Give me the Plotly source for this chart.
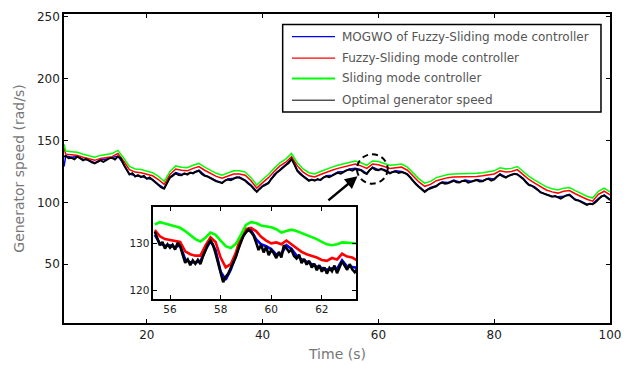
import plotly.graph_objects as go

# ---------------- data ----------------
t_main = [5.7] + list(range(6, 101))

sliding = [147,
    141.5, 141, 140.5, 139, 137.5, 136.5, 138, 139, 139.5, 142,
    136, 129, 127, 126.5, 125.5, 124, 121, 117, 125, 129.5,
    128.5, 128, 130, 131.5, 128.5, 126, 123.5, 122, 124, 125.5,
    125.5, 124.5, 120, 114, 118.5, 122.5, 127.5, 132, 135, 139.5,
    132, 127, 124, 123, 125, 127, 128.5, 130, 131, 132,
    133.5, 132, 130, 133.5, 133, 131.5, 130, 130.5, 131, 128.5,
    124, 119, 115.5, 117, 120, 121.5, 122.5, 123, 123, 123,
    123.5, 123.5, 124, 124.5, 125.5, 128, 127, 127.5, 129, 125,
    121, 118, 115, 112.5, 111, 110, 111.5, 112, 109.5, 107,
    105, 103.5, 109, 111.5, 108.5]

fuzzy = [144,
    139, 138.5, 138, 136.5, 135, 134, 135.5, 136.5, 137, 139.5,
    133.5, 126.5, 124.5, 124, 123, 121.5, 118.5, 114.5, 122.5, 127,
    126, 125.5, 127.5, 129, 126, 123.5, 121, 119.5, 121.5, 123,
    123, 122, 117.5, 111.5, 116, 120, 125, 129.5, 132.5, 137,
    129.5, 124.5, 121.5, 120.5, 122.5, 124.5, 126, 127.5, 128.5, 129.5,
    131, 129.5, 127.5, 131, 130.5, 129, 127.5, 128, 128.5, 126,
    121.5, 116.5, 113, 114.5, 117.5, 119, 120, 120.5, 120.5, 120.5,
    121, 121, 121.5, 122, 123, 125.5, 124.5, 125, 126.5, 122.5,
    118.5, 115.5, 112.5, 110, 108.5, 107.5, 109, 109.5, 107, 104.5,
    102.5, 101, 106.5, 109, 106]

mogwo = [129,
    137.5, 136.5, 137, 135, 134, 132, 134.5, 135, 136.5, 137.5,
    131, 123, 121.5, 121, 119.5, 118.5, 114.5, 111.5, 120.5, 124,
    122.5, 123, 124, 126, 122, 120, 117.5, 116, 119, 119.5,
    120.5, 118, 114, 109, 113.5, 116, 122.5, 126.5, 130.5, 135.5,
    126, 121.5, 118, 118, 118.5, 121.5, 122, 124.5, 125, 127,
    127.5, 126.5, 123.5, 128.5, 126.5, 126.5, 124, 125.5, 125, 123,
    117.5, 113, 109, 112, 113.5, 116.5, 116, 118, 116.5, 118,
    117, 118.5, 117.5, 119.5, 119, 123, 120.5, 122.5, 123, 119.5,
    114.5, 112.5, 108.5, 106.5, 105, 104.5, 105, 106.5, 102.5, 101,
    98.5, 99, 103, 106, 102.5]

# optimal speed read at half-second steps (noisy signal)
t_opt = [5.7] + [6 + 0.5 * i for i in range(189)]
optimal = [137,
    137.5, 135.8, 136.0, 134.9, 137.0, 135.6, 134.0, 135.2, 133.5, 132.4,
    131.5, 133.1, 134.0, 132.8, 134.5, 135.6, 136.0, 134.7, 137.0, 135.9,
    130.5, 126.0, 122.5, 123.6, 121.0, 122.1, 120.5, 121.4, 119.0, 120.2,
    118.0, 116.3, 114.0, 112.1, 111.0, 115.4, 120.0, 121.6, 123.5, 122.1,
    122.0, 123.4, 122.5, 124.1, 123.5, 124.8, 125.5, 123.0, 121.5, 120.9,
    119.5, 118.8, 117.0, 116.4, 115.5, 117.6, 118.5, 117.9, 119.0, 120.3,
    120.0, 118.6, 117.5, 115.2, 113.5, 110.8, 108.5, 110.9, 113.0, 114.1,
    115.5, 118.9, 122.0, 124.2, 126.0, 128.3, 130.0, 131.9, 135.0, 130.6,
    125.5, 123.0, 121.0, 118.8, 117.5, 118.4, 117.5, 118.9, 118.0, 120.1,
    121.0, 120.3, 121.5, 123.1, 124.0, 123.2, 124.5, 125.9, 126.5, 125.6,
    127.0, 126.2, 126.0, 124.1, 123.0, 126.3, 128.0, 126.4, 126.0, 127.1,
    126.0, 124.3, 123.5, 124.6, 125.0, 123.9, 124.5, 123.8, 122.5, 120.1,
    117.0, 114.6, 112.5, 110.1, 108.5, 110.3, 111.5, 112.2, 113.0, 114.9,
    116.0, 115.1, 115.5, 116.8, 117.5, 116.2, 116.0, 117.3, 117.5, 116.0,
    116.5, 117.6, 118.0, 116.9, 117.0, 118.4, 119.0, 117.6, 118.5, 120.9,
    122.5, 121.0, 120.0, 121.4, 122.0, 123.1, 122.5, 121.0, 119.0, 116.2,
    114.0, 113.4, 112.0, 110.1, 108.0, 107.2, 106.0, 105.3, 104.5, 105.1,
    104.0, 103.1, 104.5, 105.6, 106.0, 104.2, 102.0, 101.6, 100.5, 99.1,
    98.0, 98.9, 98.5, 100.1, 102.5, 104.8, 105.5, 103.4, 102.0]

# inset (zoom 55.4 - 63.4 s)
t_inset = [round(55.4 + 0.2 * i, 1) for i in range(41)]
t_inset_fine = [round(55.4 + 0.1 * i, 1) for i in range(81)]

sliding_in = [134.0, 134.5, 134.2, 133.9, 133.6, 133.3, 132.6, 131.8, 130.9, 130.4,
              131.2, 132.3, 131.8, 130.6, 129.4, 129.0, 129.9, 131.8, 133.9, 134.5,
              134.3, 133.8, 133.6, 133.4, 133.0, 132.3, 132.6, 132.9, 132.6, 132.2,
              131.7, 131.3, 130.9, 130.3, 129.8, 129.6, 129.8, 130.2, 130.1, 130.0,
              130.0]

fuzzy_in = [132.8, 131.5, 130.9, 130.7, 130.4, 130.3, 128.3, 127.7, 127.4, 127.4,
            129.5, 131.3, 130.3, 127.0, 124.9, 125.6, 128.0, 131.5, 133.0, 133.3,
            132.6, 131.4, 130.6, 130.0, 130.2, 129.8, 130.6, 129.8, 128.9, 128.2,
            127.7, 127.4, 127.0, 126.5, 126.3, 126.9, 126.6, 127.8, 127.2, 127.0,
            126.4]

mogwo_in = [131.8, 130.0, 129.5, 129.6, 129.2, 129.6, 126.6, 126.0, 126.0, 126.2,
            128.6, 130.5, 128.6, 124.0, 122.3, 124.4, 127.3, 130.6, 132.6, 132.8,
            130.9, 129.8, 129.4, 128.8, 127.6, 127.8, 129.6, 128.8, 127.4, 126.6,
            126.1, 125.6, 125.1, 124.8, 124.4, 124.7, 124.6, 126.4, 125.1, 125.0,
            124.8]

optimal_in = [132.5, 131.0, 129.6, 130.3, 128.9, 129.8, 129.1, 129.7, 128.7, 130.1, 129.4,
              127.6, 125.9, 126.6, 125.4, 126.4, 125.7, 126.5, 125.6, 127.2, 128.4,
              129.8, 130.6, 129.7, 127.9, 126.1, 123.8, 121.8, 122.9, 123.6, 124.8,
              125.9, 127.1, 128.8, 130.2, 131.6, 132.3, 133.0, 132.4, 131.7, 130.2,
              128.6, 129.7, 128.1, 129.3, 127.5, 128.6, 127.9, 126.9, 128.2, 127.0,
              129.6, 129.0, 128.2, 128.7, 127.3, 126.8, 127.6, 125.8, 126.7, 125.5,
              126.3, 124.9, 125.7, 124.3, 125.4, 124.0, 124.9, 123.6, 124.8, 124.1,
              125.3, 123.7, 125.0, 126.2, 125.3, 124.4, 125.6, 124.5, 123.9, 124.6]

names = ["MOGWO of Fuzzy-Sliding mode controller", "Fuzzy-Sliding mode controller",
         "Sliding mode controller", "Optimal generator speed"]
colors = ["#0000ff", "#ff0000", "#00ff00", "#000000"]

x_ticks = [20, 40, 60, 80, 100]
y_ticks = [50, 100, 150, 200, 250]
x_ticks_in = [56, 58, 60, 62]
y_ticks_in = [120, 130]

# ---------------- figure ----------------
FONT = "DejaVu Sans"
fig = go.Figure()

main_series = [(t_main, mogwo), (t_main, fuzzy), (t_main, sliding), (t_opt, optimal)]
widths = [1.5, 1.5, 1.5, 2.0]
for (tx, ty), c, n, w in zip(main_series, colors, names, widths):
    fig.add_trace(go.Scatter(x=tx, y=ty, mode="lines", name=n,
                             line=dict(color=c, width=w), showlegend=False,
                             xaxis="x", yaxis="y"))

inset_series = [(t_inset, mogwo_in), (t_inset, fuzzy_in), (t_inset, sliding_in),
                (t_inset_fine, optimal_in)]
for (tx, ty), c, n in zip(inset_series, colors, names):
    fig.add_trace(go.Scatter(x=tx, y=ty, mode="lines", name=n,
                             line=dict(color=c, width=2.6), showlegend=False,
                             xaxis="x2", yaxis="y2"))

axis_common = dict(showline=True, linecolor="black", linewidth=1.5, mirror="ticks",
                   ticks="inside", ticklen=4, tickcolor="black", tickwidth=1,
                   showgrid=False, zeroline=False)

fig.update_layout(
    width=638, height=365,
    margin=dict(l=64, r=28, t=10, b=42),
    paper_bgcolor="white", plot_bgcolor="white",
    showlegend=False,
    xaxis=dict(range=[5.7, 100], tickvals=x_ticks, domain=[0, 1], automargin=False,
               tickfont=dict(family=FONT, size=12, color="#222222"),
               **axis_common),
    yaxis=dict(range=[2.4, 252.4], tickvals=y_ticks, domain=[0, 1],
               tickfont=dict(family=FONT, size=12, color="#222222"),
               title=dict(text="Generator speed (rad/s)", standoff=9,
                          font=dict(family=FONT, size=14, color="#777777")),
               **axis_common),
    xaxis2=dict(range=[55.34, 63.35], tickvals=x_ticks_in, anchor="y2",
                domain=[0.1636, 0.5348],
                tickfont=dict(family=FONT, size=10.5, color="#222222"),
                **axis_common),
    yaxis2=dict(range=[118.3, 137.6], tickvals=y_ticks_in, anchor="x2",
                domain=[0.0789, 0.3738],
                tickfont=dict(family=FONT, size=10.5, color="#222222"),
                **axis_common),
)

# x-axis title
fig.add_annotation(x=0.5, y=-0.099, xref="paper", yref="paper", text="Time (s)",
                   showarrow=False, xanchor="center", yanchor="middle",
                   font=dict(family=FONT, size=14, color="#777777"))

# dashed circle marking the zoomed region + arrow
fig.add_shape(type="circle", xref="x", yref="y", x0=56.3, x1=61.6, y0=115.1, y1=138.9,
              line=dict(color="black", width=2, dash="6px,4px"), layer="above")
fig.add_annotation(x=56.4, y=121.2, ax=51.1, ay=100.6, xref="x", yref="y",
                   axref="x", ayref="y", text="", showarrow=True,
                   arrowhead=2, arrowsize=1, arrowwidth=2.5, arrowcolor="black")

# legend box (drawn manually)
fig.add_shape(type="rect", xref="paper", yref="paper", x0=0.4005, x1=0.9835,
              y0=0.6827, y1=0.9658, line=dict(color="black", width=1.5),
              fillcolor="white", layer="above")
rows = [0.9265, 0.8572, 0.7914, 0.7211]
leg_w = [1.2, 1.2, 2, 1]
for yy, c, n, w in zip(rows, colors, names, leg_w):
    fig.add_shape(type="line", xref="paper", yref="paper", x0=0.4176, x1=0.4963,
                  y0=yy, y1=yy, line=dict(color=c, width=w), layer="above")
    fig.add_annotation(x=0.5055, y=yy, xref="paper", yref="paper", text=n,
                       showarrow=False, xanchor="left", yanchor="middle",
                       font=dict(family=FONT, size=12, color="#555555"))

fig.write_html("out.html")
